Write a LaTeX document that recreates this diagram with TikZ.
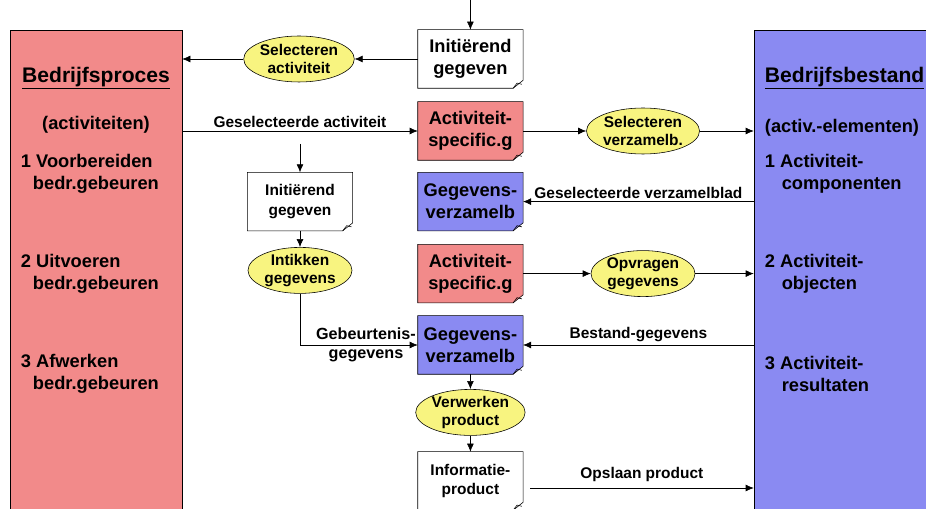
\documentclass[tikz,border=0pt]{standalone}
\usepackage{fontspec}
\setmainfont{Liberation Sans}
\usetikzlibrary{arrows.meta,positioning,shapes.geometric,backgrounds}
\definecolor{procred}{HTML}{F28A8A}
\definecolor{bestblue}{HTML}{8A8AF2}
\definecolor{actyellow}{HTML}{F8F480}
\tikzset{
  doc/.style={rectangle,minimum width=2.62cm,minimum height=1.45cm,align=center,inner sep=2pt,font=\fontsize{13}{15.5}\selectfont\bfseries},
  smalldoc/.style={doc,font=\fontsize{11}{14}\selectfont\bfseries},
  activity/.style={ellipse,draw,fill=actyellow,minimum width=2.6cm,minimum height=1.15cm,inner sep=0pt,align=center,font=\fontsize{11}{12.5}\selectfont\bfseries},
  sidebox/.style={rectangle,draw,minimum height=12.4cm},
  arrow/.style={-{Latex[length=2mm,width=1.7mm]}},
  flowlabel/.style={font=\fontsize{11}{13}\selectfont\bfseries,inner sep=2pt},
  sidetitle/.style={font=\fontsize{15}{17}\selectfont\bfseries,anchor=west},
  sideitem/.style={font=\fontsize{13}{15.6}\selectfont\bfseries,align=left,anchor=west}
}

\begin{document}
\begin{tikzpicture}[x=1cm,y=1cm]
    \useasboundingbox (0,0) rectangle (23.15,12.7);
    % side stores
    \node[sidebox,fill=procred,minimum width=4.3cm] (bproc) at (2.4,5.75) {};
    \node[sidebox,fill=bestblue,minimum width=4.6cm] (bbest) at (21.15,5.75) {};
    \node[sidetitle,anchor=center] at (2.4,10.75) {\underline{Bedrijfsproces}};
    \node[sideitem,anchor=center] at (2.4,9.575) {(activiteiten)};
    \node[sideitem] at (0.4,8.35) {1 Voorbereiden\\\hspace{0.3cm}bedr.gebeuren};
    \node[sideitem] at (0.4,5.85) {2 Uitvoeren\\\hspace{0.3cm}bedr.gebeuren};
    \node[sideitem] at (0.4,3.35) {3 Afwerken\\\hspace{0.3cm}bedr.gebeuren};
    \node[sidetitle] at (19.0,10.75) {\underline{Bedrijfsbestand}};
    \node[sideitem] at (19.0,9.5) {(activ.-elementen)};
    \node[sideitem] at (19.0,8.35) {1 Activiteit-\\\hspace{0.42cm}componenten};
    \node[sideitem] at (19.0,5.85) {2 Activiteit-\\\hspace{0.42cm}objecten};
    \node[sideitem] at (19.0,3.35) {3 Activiteit-\\\hspace{0.42cm}resultaten};

    % documents
    \node[doc] (init1) at (11.76,11.225) {Initiërend\\gegeven};
    \node[doc] (spec1) at (11.76,9.425) {Activiteit-\\specific.g};
    \node[doc] (verz1) at (11.76,7.66) {Gegevens-\\verzamelb};
    \node[doc] (spec2) at (11.76,5.86) {Activiteit-\\specific.g};
    \node[doc] (verz2) at (11.76,4.075) {Gegevens-\\verzamelb};
    \node[smalldoc] (init2) at (7.5,7.66) {Initiërend\\gegeven};
    \node[smalldoc] (info) at (11.76,0.675) {Informatie-\\product};
    \begin{scope}[on background layer]
      \foreach \n/\c in {init1/white,spec1/procred,verz1/bestblue,spec2/procred,verz2/bestblue,init2/white,info/white}{
        \filldraw[fill=\c] (\n.south west) -- (\n.north west) -- (\n.north east) -- ([yshift=0.2cm]\n.south east) -- ([xshift=-0.25cm]\n.south east) -- cycle;
        \draw ([xshift=-0.25cm]\n.south east) -- ++(0.1,0.13) -- ++(0.12,-0.03);
      }
    \end{scope}

    % activities
    \node[activity] (selact) at (7.475,11.225) {Selecteren\\activiteit};
    \node[activity] (selverz) at (16.075,9.425) {Selecteren\\verzamelb.};
    \node[activity] (intik) at (7.5,5.94) {Intikken\\gegevens};
    \node[activity] (opvr) at (16.075,5.86) {Opvragen\\gegevens};
    \node[activity] (verw) at (11.76,2.39) {Verwerken\\product};

    % flows
    \coordinate (start) at (11.76,12.7);
    \coordinate (down) at (7.5,9.1);
    \coordinate (opsl) at (13.25,0.5);
    \draw[arrow] (start) -- (init1);
    \draw[arrow] (init1) -- (selact);
    \draw[arrow] (selact) -- (bproc.east |- selact);
    \draw[arrow] (bproc.east |- spec1) -- node[flowlabel,above]{Geselecteerde activiteit} (spec1);
    \draw[arrow] (spec1) -- (selverz);
    \draw[arrow] (selverz) -- (bbest.west |- selverz);
    \draw[arrow] (down) -- (init2);
    \draw[arrow] (init2) -- (intik);
    \draw[arrow] (bbest.west |- verz1) -- node[flowlabel,above]{Geselecteerde verzamelblad} (verz1);
    \draw[arrow] (spec2) -- (opvr);
    \draw[arrow] (opvr) -- (bbest.west |- opvr);
    \draw[arrow] (intik) |- (verz2);
    \node[flowlabel,align=center,font=\fontsize{11.5}{14}\selectfont\bfseries] at (9.15,4.075) {Gebeurtenis-\\gegevens};
    \draw[arrow] (bbest.west |- verz2) -- node[flowlabel,above]{Bestand-gegevens} (verz2);
    \draw[arrow] (verz2) -- (verw);
    \draw[arrow] (verw) -- (info);
    \draw[arrow] (opsl) -- node[flowlabel,above=2pt]{Opslaan product} (bbest.west |- opsl);
  \end{tikzpicture}
\end{document}
